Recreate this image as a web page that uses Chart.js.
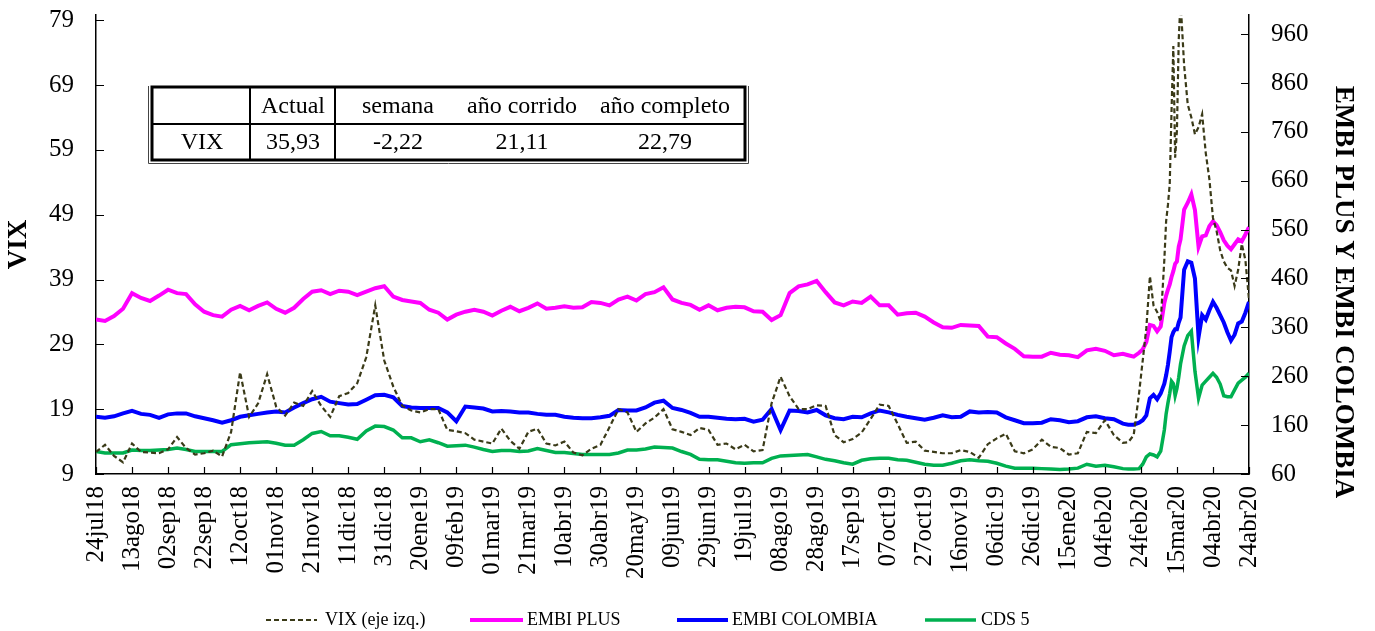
<!DOCTYPE html>
<html><head><meta charset="utf-8">
<script src="https://cdn.jsdelivr.net/npm/chart.js@4/dist/chart.umd.min.js"></script>
<style>html,body{margin:0;padding:0;background:#fff;}#wrap{width:1375px;height:631px;}</style>
</head><body><div id="wrap"><canvas id="c" width="1375" height="631"></canvas></div>
<script>
// ---------- DATA ----------
const xTickLabels = ['24jul18','13ago18','02sep18','22sep18','12oct18','01nov18','21nov18','11dic18','31dic18','20ene19','09feb19','01mar19','21mar19','10abr19','30abr19','20may19','09jun19','29jun19','19jul19','08ago19','28ago19','17sep19','07oct19','27oct19','16nov19','06dic19','26dic19','15ene20','04feb20','24feb20','15mar20','04abr20','24abr20'];
const xTickDays = [0,20,40,60,80,100,120,140,160,180,200,220,240,260,280,300,320,340,360,380,400,420,440,460,480,500,520,540,560,580,600,620,640];
const leftTicks = [9,19,29,39,49,59,69,79];
const rightTicks = [60,160,260,360,460,560,660,760,860,960];
const tableHeader = ['', 'Actual', 'semana', 'año corrido', 'año completo'];
const tableRow = ['VIX', '35,93', '-2,22', '21,11', '22,79'];
const seriesNames = ['VIX (eje izq.)', 'EMBI PLUS', 'EMBI COLOMBIA', 'CDS 5'];

// days since 24jul18 at which values were read
const days = [0,5,10,15,20,25,30,35,40,45,50,55,60,65,70,75,80,85,90,95,100,105,110,115,120,125,130,
 135,140,145,150,155,160,165,170,175,180,185,190,195,200,205,210,215,220,225,230,235,240,245,250,255,260,
 265,270,275,280,285,290,295,300,305,310,315,320,325,330,335,340,345,350,355,360,365,370,375,380,385,390,395,
 400,405,410,415,420,425,430,435,440,445,450,455,460,465,470,475,480,485,490,495,500,505,510,515,520,525,530,535,540,545,550,555,560,565,570,
 573,576,579,581,583,585,587,589,591,593,594,595,596,597,598,599,600,601,602,
 604,606,608,610,612,614,616,618,620,622,624,626,628,630,632,634,636,638,640];

const vix = [12.4,13.5,11.8,10.8,13.7,12.4,12.3,12.2,12.8,14.7,13.0,12.0,12.2,12.6,11.7,15.5,24.7,17.8,19.9,24.4,19.4,18.0,20.0,19.5,21.8,19.5,17.8,
 21.0,21.5,23.0,27.0,35.0,26.5,22.5,19.5,18.8,18.5,19.0,19.0,15.8,15.6,15.3,14.3,14.0,13.7,16.0,14.1,12.9,15.5,16.0,13.7,13.4,14.0,
 12.3,11.9,12.9,13.5,16.2,19.0,18.5,15.5,16.8,17.7,19.0,15.9,15.5,15.0,16.1,15.8,13.5,13.7,12.8,13.5,12.5,12.7,19.9,24.0,21.0,19.0,19.0,
 19.6,19.5,15.0,13.9,14.4,15.4,17.5,19.7,19.5,16.7,13.8,14.0,12.6,12.4,12.2,12.2,12.7,12.4,11.5,13.6,14.5,15.2,12.5,12.2,12.8,14.3,13.2,13.0,12.0,12.2,15.5,15.3,17.3,15.0,13.8,
 13.9,15.0,21.5,26.5,31.5,39.5,35.0,34.0,32.5,42.0,48.0,50.5,53.7,65.0,75.0,57.8,62.0,76.0,82.0,
 72.0,66.0,64.0,61.4,62.5,64.5,58.5,54.5,48.5,46.5,43.5,41.8,40.8,40.4,38.0,40.5,44.5,42.0,35.9];

const embiPlus = [376,373,383,398,430,420,414,425,437,430,428,407,392,385,382,396,404,395,404,411,398,390,400,418,433,436,428,
 435,433,426,433,440,444,423,416,413,410,396,390,376,386,392,396,392,384,394,402,393,400,409,398,400,403,
 400,401,412,410,405,417,423,415,428,432,442,417,410,406,396,405,395,400,402,401,393,392,375,385,430,444,448,
 455,432,411,405,413,410,423,405,405,386,389,390,382,370,360,359,365,364,363,341,340,327,316,301,300,300,308,304,303,299,313,316,312,303,306,
 303,300,308,315,330,365,363,352,362,410,425,437,448,463,475,490,495,525,540,
 601,615,632,600,525,546,548,567,577,569,555,538,527,520,530,540,536,550,565];

const embiCol = [177,175,178,184,189,183,181,175,182,184,184,178,174,170,165,170,177,180,183,186,188,186,196,205,213,218,208,
 205,202,203,212,221,222,217,199,196,195,195,195,186,168,198,196,194,188,189,188,186,186,183,181,181,177,
 175,174,174,176,179,191,190,190,196,206,210,195,191,185,177,177,175,173,172,173,167,171,193,150,190,189,186,
 191,180,174,172,177,176,184,190,186,181,177,174,171,175,180,176,177,188,186,187,186,176,170,164,164,165,172,170,166,168,176,178,174,172,163,
 161,161,165,170,180,215,222,213,225,245,262,283,310,340,350,356,356,370,380,
 478,495,492,460,340,385,376,395,412,400,385,370,350,333,345,368,372,390,412];

const cds5 = [106,103,103,103,109,108,108,109,110,113,110,106,106,106,106,120,122,124,125,126,123,119,119,130,143,147,138,
 138,135,131,148,158,157,150,134,134,126,130,124,117,118,119,115,110,106,108,108,106,107,112,108,104,104,
 102,100,100,100,100,103,109,109,111,115,114,113,106,100,90,89,89,86,83,82,83,83,92,97,98,99,100,
 95,90,87,83,80,88,91,92,92,89,88,84,80,78,78,82,87,89,87,86,82,76,72,72,72,71,70,69,70,72,80,76,78,75,71,
 70,70,71,80,95,101,99,95,107,150,183,205,225,250,245,220,235,258,285,
 322,343,352,270,215,242,250,258,266,258,244,220,218,218,232,246,252,258,266];

// ---------- CHART ----------
const FONT = '"Liberation Serif", "Times New Roman", serif';
const pts = arr => days.map((d, i) => ({x: d, y: arr[i]}));

const decor = {
  id: 'decor',
  afterDraw(chart) {
    const ctx = chart.ctx;
    const {left, right, bottom} = chart.chartArea;
    const xs = chart.scales.x, yl = chart.scales.y, yr = chart.scales.y2;
    ctx.save();
    // inner tick marks
    ctx.strokeStyle = '#000'; ctx.lineWidth = 1.2;
    ctx.beginPath();
    xs.ticks.forEach(t => { const p = Math.round(xs.getPixelForValue(t.value)) + 0.5; ctx.moveTo(p, bottom); ctx.lineTo(p, bottom - 7); });
    yl.ticks.forEach(t => { const p = Math.round(yl.getPixelForValue(t.value)) + 0.5; ctx.moveTo(left, p); ctx.lineTo(left + 8, p); });
    yr.ticks.forEach(t => { const p = Math.round(yr.getPixelForValue(t.value)) + 0.5; ctx.moveTo(right, p); ctx.lineTo(right - 8, p); });
    ctx.stroke();

    // table
    const tL = 152, tR = 745, tT = 87, tB = 160, tM = 124;
    const colX = [250, 335];
    ctx.fillStyle = '#fff'; ctx.fillRect(tL, tT, tR - tL, tB - tT);
    ctx.strokeStyle = '#000'; ctx.lineWidth = 3;
    ctx.strokeRect(tL, tT, tR - tL, tB - tT);
    ctx.lineWidth = 1; ctx.strokeStyle = '#444';
    ctx.beginPath();
    ctx.moveTo(tL - 3.5, tT - 1); ctx.lineTo(tL - 3.5, tB + 3.5); ctx.lineTo(tR + 3.5, tB + 3.5); ctx.lineTo(tR + 3.5, tT - 1);
    ctx.stroke();
    ctx.strokeStyle = '#000'; ctx.lineWidth = 2;
    ctx.beginPath();
    ctx.moveTo(tL, tM); ctx.lineTo(tR, tM);
    colX.forEach(c => { ctx.moveTo(c, tT); ctx.lineTo(c, tB); });
    ctx.stroke();
    const centers = [202, 293, 398, 522, 665];
    ctx.fillStyle = '#000'; ctx.font = '24px ' + FONT; ctx.textAlign = 'center'; ctx.textBaseline = 'middle';
    tableHeader.forEach((t, i) => ctx.fillText(t, centers[i], 107));
    tableRow.forEach((t, i) => ctx.fillText(t, centers[i], 143));

    // legend
    const leg = [[266, 317, 325], [470, 523, 527], [677, 728, 732], [925, 976, 981]];
    const ly = 620;
    ctx.font = '18px ' + FONT; ctx.textAlign = 'left'; ctx.textBaseline = 'middle';
    chart.data.datasets.forEach((ds, i) => {
      const [a, b, tx] = leg[i];
      ctx.strokeStyle = ds.borderColor; ctx.lineWidth = ds.borderWidth;
      ctx.setLineDash(ds.borderDash || []);
      ctx.beginPath(); ctx.moveTo(a, ly); ctx.lineTo(b, ly); ctx.stroke();
      ctx.setLineDash([]);
      ctx.fillStyle = '#000'; ctx.fillText(ds.label, tx, ly);
    });

    // right axis title
    ctx.translate(1343, 292); ctx.rotate(Math.PI / 2);
    ctx.font = 'bold 27px ' + FONT; ctx.textAlign = 'center'; ctx.textBaseline = 'middle';
    ctx.fillText('EMBI PLUS Y EMBI COLOMBIA', 0, 0);
    ctx.restore();
  }
};

new Chart(document.getElementById('c'), {
  type: 'line',
  data: {
    datasets: [
      {label: seriesNames[0], data: pts(vix), yAxisID: 'y', borderColor: '#3a3a18', borderWidth: 2.2, borderDash: [5, 3]},
      {label: seriesNames[1], data: pts(embiPlus), yAxisID: 'y2', borderColor: '#ff00ff', borderWidth: 4},
      {label: seriesNames[2], data: pts(embiCol), yAxisID: 'y2', borderColor: '#0000ff', borderWidth: 4},
      {label: seriesNames[3], data: pts(cds5), yAxisID: 'y2', borderColor: '#00b050', borderWidth: 3.5}
    ]
  },
  options: {
    responsive: false, animation: false, devicePixelRatio: 1,
    layout: {padding: {top: 15, left: 0, right: 0, bottom: 0}},
    elements: {point: {radius: 0}, line: {tension: 0}},
    plugins: {legend: {display: false}, tooltip: {enabled: false}},
    scales: {
      x: {
        type: 'linear', position: 'bottom', min: 0, max: 640,
        afterBuildTicks: s => { s.ticks = xTickDays.map(v => ({value: v})); },
        afterFit: s => { s.height = 157; s.paddingLeft = 0; s.paddingRight = 0; },
        ticks: {autoSkip: false, minRotation: 90, maxRotation: 90, padding: 12, color: '#000',
          font: {family: FONT, size: 25},
          callback: (v, i) => xTickLabels[i]},
        grid: {drawOnChartArea: false, drawTicks: false},
        border: {display: true, color: '#000', width: 1.5}
      },
      y: {
        position: 'left', min: 9, max: 79.8,
        afterBuildTicks: s => { s.ticks = leftTicks.map(v => ({value: v})); },
        afterFit: s => { s.width = 96; s.paddingTop = 0; s.paddingBottom = 0; },
        ticks: {padding: 22, color: '#000', font: {family: FONT, size: 25}},
        grid: {drawOnChartArea: false, drawTicks: false},
        border: {display: true, color: '#000', width: 1.5},
        title: {display: true, text: 'VIX', color: '#000', font: {family: FONT, size: 27, weight: 'bold'}, padding: {top: 3, bottom: 0}}
      },
      y2: {
        position: 'right', min: 60, max: 999,
        afterBuildTicks: s => { s.ticks = rightTicks.map(v => ({value: v})); },
        afterFit: s => { s.width = 126; s.paddingTop = 0; s.paddingBottom = 0; },
        ticks: {padding: 22, color: '#000', font: {family: FONT, size: 25}},
        grid: {drawOnChartArea: false, drawTicks: false},
        border: {display: true, color: '#000', width: 1.5}
      }
    }
  },
  plugins: [decor]
});
</script></body></html>
